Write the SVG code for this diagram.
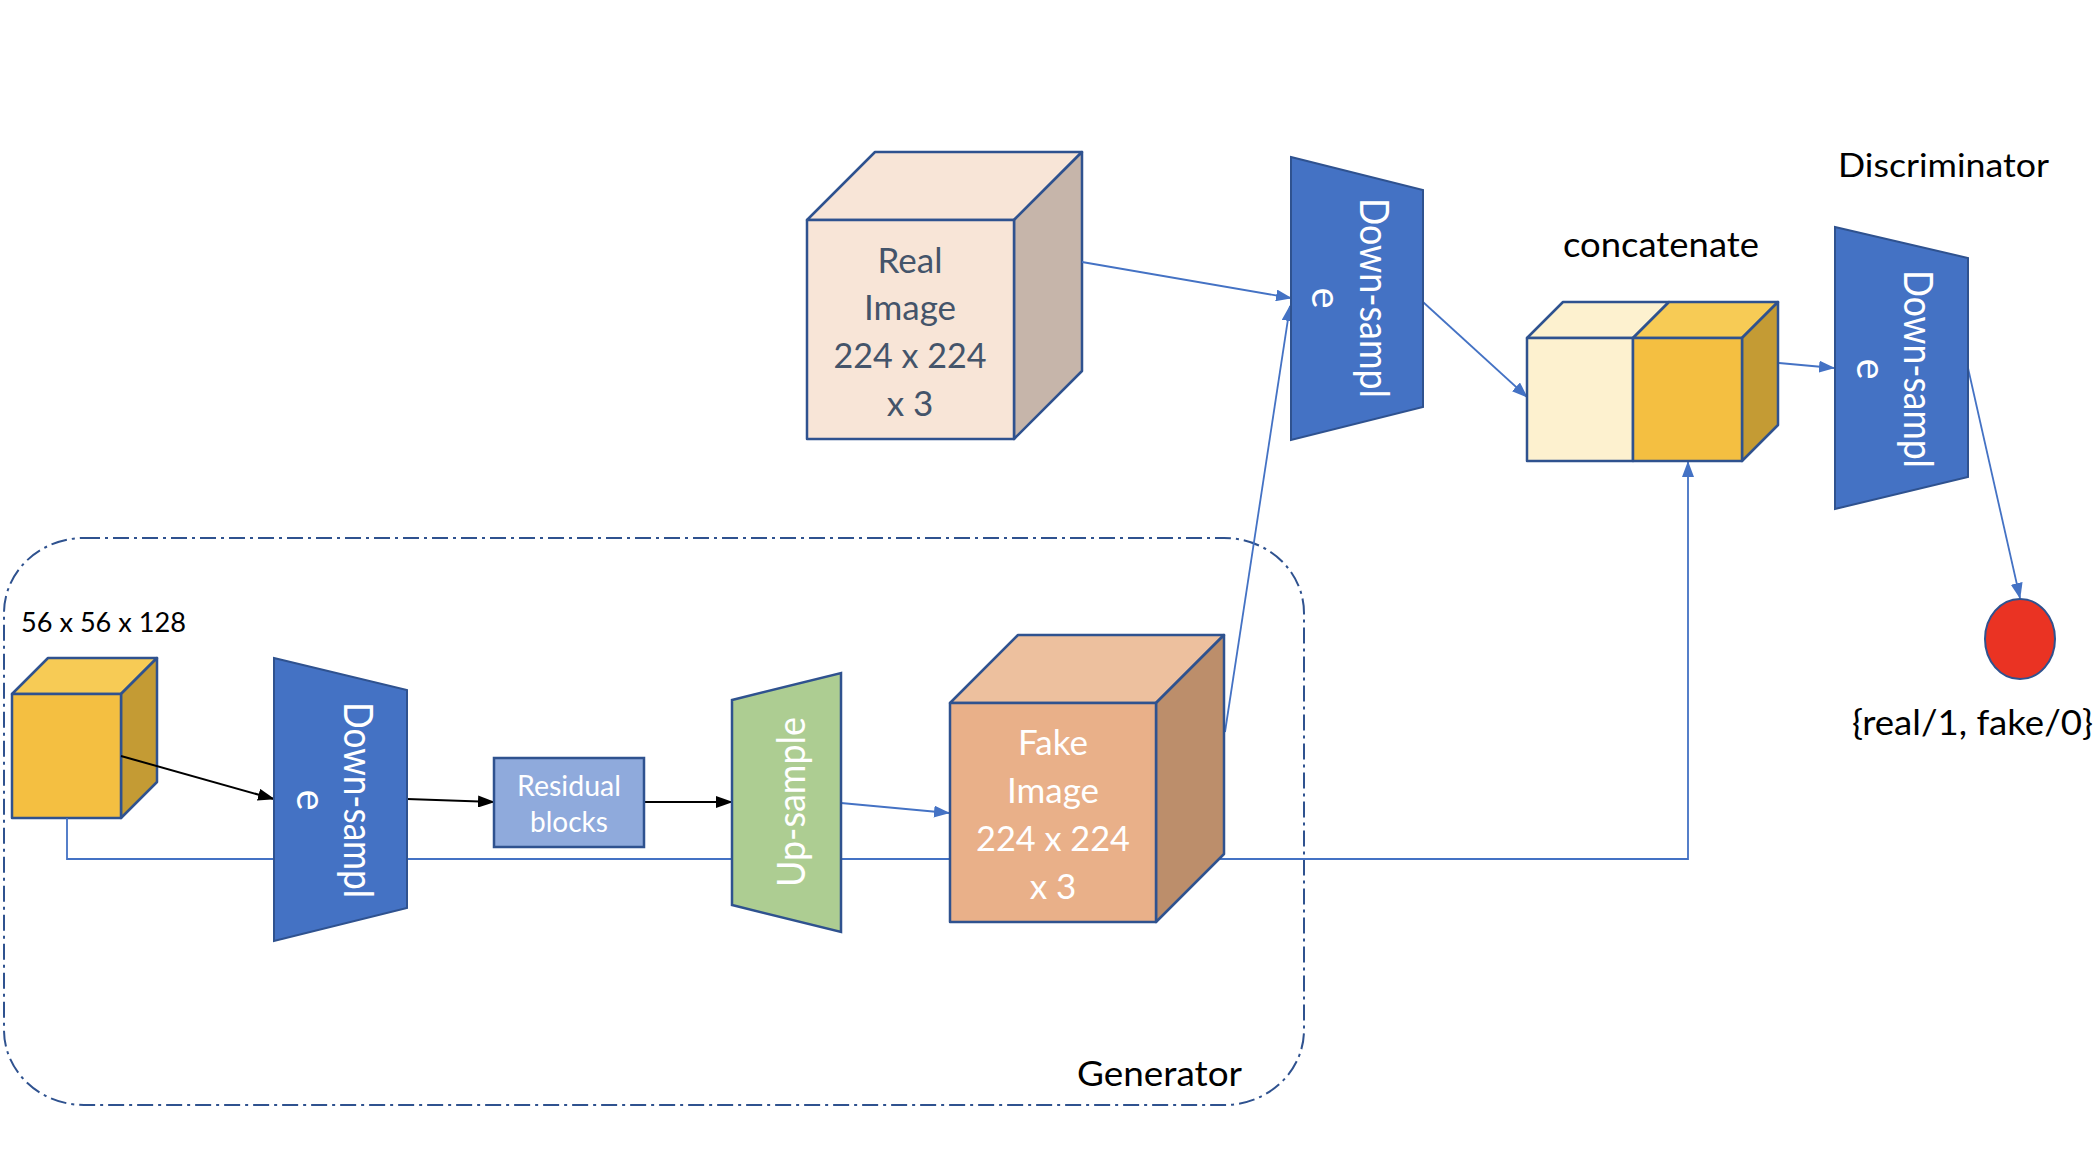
<svg xmlns="http://www.w3.org/2000/svg" width="2098" height="1152" viewBox="0 0 2098 1152">
<style>
.t{font-family:Lato,"Open Sans","Liberation Sans",sans-serif}
.blk{fill:#000}
.wht{fill:#fff}
.slate{fill:#44546A}
.ds{fill:#4472C4;stroke:#2F528F;stroke-width:2}
.up{fill:#ADCD92;stroke:#2F528F;stroke-width:2.5}
.cube{stroke:#2F528F;stroke-width:2.5;stroke-linejoin:round}
.bl{fill:none;stroke:#4472C4;stroke-width:1.8}
.bk{fill:none;stroke:#000;stroke-width:2}
</style>
<defs>
<marker id="ab" markerUnits="userSpaceOnUse" markerWidth="16" markerHeight="12" refX="15" refY="6" orient="auto">
<path d="M0,0 L16,6 L0,12 z" fill="#4472C4"/>
</marker>
<marker id="ak" markerUnits="userSpaceOnUse" markerWidth="17" markerHeight="12" refX="16" refY="6" orient="auto">
<path d="M0,0 L17,6 L0,12 z" fill="#000"/>
</marker>
</defs>
<rect width="2098" height="1152" fill="#fff"/>

<g id="generator-frame">
<rect x="4" y="538" width="1300" height="567" rx="80" ry="75" fill="none" stroke="#2F528F" stroke-width="2" stroke-dasharray="16 5 3 5"/>
<text class="t blk" x="1077" y="1086" font-size="35" textLength="165" lengthAdjust="spacingAndGlyphs">Generator</text>
</g>

<g id="real-image">
<polygon class="cube" fill="#F8E5D7" points="807,220 875,152 1082,152 1014,220"/>
<polygon class="cube" fill="#C6B5AA" points="1014,220 1082,152 1082,371 1014,439"/>
<rect class="cube" fill="#F8E5D7" x="807" y="220" width="207" height="219"/>
<g class="t slate" font-size="35" text-anchor="middle">
<text x="910" y="273">Real</text>
<text x="910" y="320">Image</text>
<text x="910" y="368" textLength="153" lengthAdjust="spacingAndGlyphs">224 x 224</text>
<text x="910" y="416">x 3</text>
</g>
</g>

<g id="input-feature">
<polygon class="cube" fill="#F7CB55" points="12,694 48,658 157,658 121,694"/>
<polygon class="cube" fill="#C49B34" points="121,694 157,658 157,782 121,818"/>
<rect class="cube" fill="#F4BF41" x="12" y="694" width="109" height="124"/>
<text class="t blk" x="21" y="632" font-size="26" textLength="165" lengthAdjust="spacingAndGlyphs">56 x 56 x 128</text>
</g>

<g id="connectors">
<line class="bl" x1="1082" y1="262" x2="1291" y2="298" marker-end="url(#ab)"/>
<line class="bl" x1="1225" y1="732" x2="1290" y2="306" marker-end="url(#ab)"/>
<line class="bl" x1="1423" y1="302" x2="1527" y2="397" marker-end="url(#ab)"/>
<line class="bl" x1="1779" y1="363" x2="1834" y2="368" marker-end="url(#ab)"/>
<line class="bl" x1="1968" y1="368" x2="2020" y2="598" marker-end="url(#ab)"/>
<polyline class="bl" points="67,818 67,859 1688,859 1688,462" marker-end="url(#ab)"/>
<line class="bk" x1="121" y1="756" x2="274" y2="799" marker-end="url(#ak)"/>
<line class="bk" x1="407" y1="799" x2="494" y2="802" marker-end="url(#ak)"/>
<line class="bk" x1="644" y1="802" x2="732" y2="802" marker-end="url(#ak)"/>
<line class="bl" x1="841" y1="803" x2="949" y2="813" marker-end="url(#ab)"/>
</g>

<g id="downsample-1">
<polygon class="ds" points="1291,157 1423,190 1423,407 1291,440"/>
<g transform="translate(1360,298) rotate(90)" class="t wht" font-size="40" text-anchor="middle">
<text x="0" y="0" textLength="200" lengthAdjust="spacingAndGlyphs">Down-sampl</text>
<text x="0" y="48">e</text>
</g>
</g>

<g id="concatenate">
<polygon class="cube" fill="#FDF1CF" points="1527,338 1563,302 1669,302 1633,338"/>
<polygon class="cube" fill="#F7CB55" points="1633,338 1669,302 1778,302 1742,338"/>
<polygon class="cube" fill="#C49B34" points="1742,338 1778,302 1778,425 1742,461"/>
<rect class="cube" fill="#FDF1CF" x="1527" y="338" width="106" height="123"/>
<rect class="cube" fill="#F4BF41" x="1633" y="338" width="109" height="123"/>
<text class="t blk" x="1563" y="257" font-size="35" textLength="196" lengthAdjust="spacingAndGlyphs">concatenate</text>
</g>

<g id="downsample-2">
<polygon class="ds" points="1835,227 1968,258 1968,477 1835,509"/>
<g transform="translate(1904,369) rotate(90)" class="t wht" font-size="40" text-anchor="middle">
<text x="0" y="0" textLength="198" lengthAdjust="spacingAndGlyphs">Down-sampl</text>
<text x="0" y="47">e</text>
</g>
<text class="t blk" x="1838" y="177" font-size="33" textLength="211" lengthAdjust="spacingAndGlyphs">Discriminator</text>
</g>

<g id="output">
<ellipse cx="2020" cy="639" rx="35" ry="40" fill="#EA3323" stroke="#2F528F" stroke-width="2"/>
<text class="t blk" x="1852" y="735" font-size="35" textLength="241" lengthAdjust="spacingAndGlyphs">{real/1, fake/0}</text>
</g>

<g id="downsample-3">
<polygon class="ds" points="274,658 407,690 407,908 274,941"/>
<g transform="translate(344,800) rotate(90)" class="t wht" font-size="40" text-anchor="middle">
<text x="0" y="0" textLength="196" lengthAdjust="spacingAndGlyphs">Down-sampl</text>
<text x="0" y="47">e</text>
</g>
</g>

<g id="residual-blocks">
<rect x="494" y="758" width="150" height="89" fill="#8FAADC" stroke="#2F528F" stroke-width="2.5"/>
<g class="t wht" font-size="28" text-anchor="middle">
<text x="569" y="796" textLength="104" lengthAdjust="spacingAndGlyphs">Residual</text>
<text x="569" y="832">blocks</text>
</g>
</g>

<g id="upsample">
<polygon class="up" points="732,700 841,673 841,932 732,905"/>
<text class="t wht" transform="translate(805,802) rotate(-90)" font-size="39" text-anchor="middle" textLength="170" lengthAdjust="spacingAndGlyphs">Up-sample</text>
</g>

<g id="fake-image">
<polygon class="cube" fill="#EDC09E" points="950,703 1018,635 1224,635 1156,703"/>
<polygon class="cube" fill="#BC8E6B" points="1156,703 1224,635 1224,854 1156,922"/>
<rect class="cube" fill="#E9B089" x="950" y="703" width="206" height="219"/>
<g class="t wht" font-size="35" text-anchor="middle">
<text x="1053" y="755">Fake</text>
<text x="1053" y="803">Image</text>
<text x="1053" y="851" textLength="154" lengthAdjust="spacingAndGlyphs">224 x 224</text>
<text x="1053" y="899">x 3</text>
</g>
</g>
</svg>
